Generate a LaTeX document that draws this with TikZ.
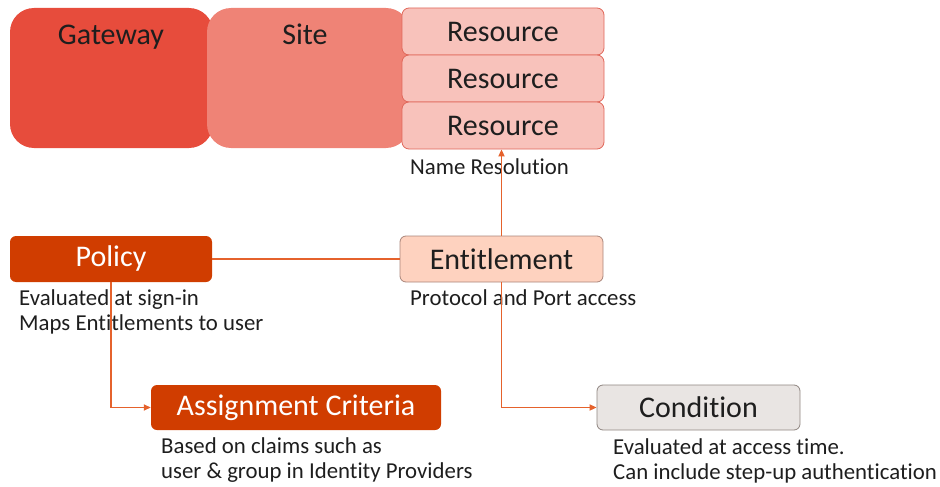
\documentclass[tikz,border=0pt]{standalone}
\usepackage{fontspec}
\setmainfont[Ligatures={NoCommon}]{Carlito}
\usetikzlibrary{arrows.meta}
\definecolor{gwred}{HTML}{E74C3C}
\definecolor{sitered}{HTML}{EF8376}
\definecolor{respink}{HTML}{F8C2BB}
\definecolor{resedge}{HTML}{E0675A}
\definecolor{polorange}{HTML}{D03D00}
\definecolor{entpeach}{HTML}{FED2BF}
\definecolor{entedge}{HTML}{A9857A}
\definecolor{condgray}{HTML}{E9E5E3}
\definecolor{condedge}{HTML}{8F8580}
\definecolor{linkorange}{HTML}{E5622C}
\definecolor{txt}{HTML}{1E1E1E}
\tikzset{
  bigfont/.style={font=\fontsize{30}{34}\selectfont},
  smallfont/.style={font=\fontsize{22.8}{25}\selectfont},
  block/.style={draw=none, inner sep=0pt, rounded corners=24pt},
  resbox/.style={fill=respink, draw=resedge, line width=0.8pt, rounded corners=7pt,
    minimum width=202pt, minimum height=47pt, inner sep=0pt, text=txt, bigfont},
  keybox/.style={rounded corners=6pt, minimum height=46pt, inner sep=0pt, bigfont},
  note/.style={anchor=west, inner sep=0pt, text=txt, smallfont, align=left},
  link/.style={draw=linkorange, line width=1.7pt},
  linkarrow/.style={link, -{Triangle[length=7pt,width=6pt]}}
}
\begin{document}
\begin{tikzpicture}[x=1pt,y=-1pt]
\useasboundingbox (0,0) rectangle (940,487);
% top row: gateway, site and the stack of resources
\node[block, fill=gwred, minimum width=203pt, minimum height=140pt] (gw) at (111.5,78) {};
\node[block, fill=sitered, minimum width=203pt, minimum height=140pt] (site) at (308.5,78) {};
\node[anchor=base, bigfont, text=txt] (gwlabel) at (111,45) {Gateway};
\node[anchor=base, bigfont, text=txt] (sitelabel) at (305,45) {Site};
\node[resbox] (res1) at (503,31.5) {Resource};
\node[resbox] (res2) at (503,78.5) {Resource};
\node[resbox] (res3) at (503,125.5) {Resource};
\node[note] (nameres) at (410,167) {Name Resolution};
% middle row
\node[keybox, fill=polorange, text=white, minimum width=202pt] (policy) at (111,259) {Policy};
\node[keybox, fill=entpeach, draw=entedge, line width=0.8pt, text=txt, minimum width=203pt] (ent) at (501.5,259) {Entitlement};
\node[note] (poltxt) at (19,311.5) {Evaluated at sign-in\\Maps Entitlements to user};
\node[note] (enttxt) at (410,298) {Protocol and Port access};
% bottom row
\node[keybox, fill=polorange, text=white, minimum width=290pt, minimum height=45pt] (assign) at (296,407.5) {Assignment Criteria};
\node[keybox, fill=condgray, draw=condedge, line width=0.8pt, text=txt, minimum width=203pt, minimum height=45pt] (cond) at (698.5,407.5) {Condition};
\node[note] (assigntxt) at (161,460.5) {Based on claims such as\\user \& group in Identity Providers};
\node[note] (condtxt) at (613,460.5) {Evaluated at access time.\\Can include step-up authentication};
% connectors
\draw[link] (policy.east) -- (ent.west);
\draw[linkarrow] (policy.south) |- (assign.west);
\draw[linkarrow] (ent.south) |- (cond.west);
\draw[linkarrow] (ent.north) -- (ent.north |- res3.south);
\end{tikzpicture}
\end{document}
